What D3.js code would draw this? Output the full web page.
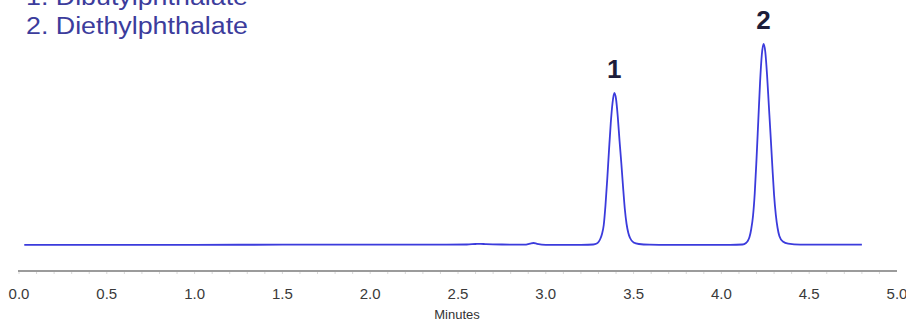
<!DOCTYPE html>
<html lang="en">
<head>
<meta charset="utf-8">
<title>Chromatogram</title>
<style>
  body { margin: 0; background: #fff; }
  text { font-family: "Liberation Sans", Arial, sans-serif; }
</style>
</head>
<body>
<svg width="906" height="323"></svg>
<script src="https://d3js.org/d3.v7.min.js"></script>
<script>
// trace: minutes / detector signal
var traceTime = [
  0.03, 0.5, 1.0, 1.5, 2.0, 2.4, 2.55, 2.60, 2.63, 2.66, 2.75, 2.88, 2.91, 2.93, 2.95, 3.0, 3.1, 3.2,
  3.27, 3.29, 3.30, 3.31, 3.32, 3.33, 3.34, 3.35, 3.36, 3.37, 3.38, 3.39, 3.40, 3.41, 3.42, 3.43,
  3.44, 3.45, 3.46, 3.47, 3.48, 3.50, 3.53, 3.59, 3.7, 3.9, 4.05,
  4.12, 4.14, 4.15, 4.16, 4.17, 4.18, 4.19, 4.20, 4.21, 4.22, 4.23, 4.24, 4.25, 4.26, 4.27, 4.28,
  4.29, 4.30, 4.31, 4.32, 4.33, 4.35, 4.38, 4.45, 4.6, 4.80
];
var traceSignal = [
  0.2, 0.2, 0.2, 0.3, 0.3, 0.4, 0.5, 1.0, 1.2, 0.8, 0.5, 0.4, 1.4, 2.0, 1.2, 0.2, 0.1, 0.2,
  0.5, 1.5, 3, 6, 11, 20, 40, 66, 95, 122, 142, 152, 146, 128, 104, 82,
  58, 36, 21, 12, 7, 2.5, 1, 0.3, 0.1, 0.2, 0.2,
  0.5, 2, 4, 8, 16, 29, 52, 86, 124, 162, 190, 201, 193, 170, 140, 110,
  79, 50, 30, 17, 9, 3.5, 1.3, 0.4, 0.3, 0.3
];
var xTicks = [0.0, 0.5, 1.0, 1.5, 2.0, 2.5, 3.0, 3.5, 4.0, 4.5, 5.0];
var legendLines = ["1. Dibutylphthalate", "2. Diethylphthalate"];
var peakNames = ["1", "2"];
var peakTimes = [3.39, 4.24];
var peakHeights = [152, 201];

var svg = d3.select("svg");

var x = d3.scaleLinear().domain([0, 5]).range([19, 897]);
var y = d3.scaleLinear().domain([0, 210]).range([245, 35]);

// x axis, bare line with faint minor ticks
var axis = svg.append("g").attr("transform", "translate(0,271)");
axis.append("line")
    .attr("x1", 18).attr("x2", 897)
    .attr("stroke", "#7a7a7a").attr("stroke-width", 1.3);
axis.selectAll("line.minor")
    .data(d3.range(0, 50).map(function(i) { return i / 10; }))
  .enter().append("line")
    .attr("class", "minor")
    .attr("x1", function(d) { return x(d); })
    .attr("x2", function(d) { return x(d); })
    .attr("y1", 1).attr("y2", 3)
    .attr("stroke", "#d8d8d8");
axis.selectAll("text.tick")
    .data(xTicks)
  .enter().append("text")
    .attr("class", "tick")
    .attr("x", function(d) { return x(d); })
    .attr("y", 28)
    .attr("text-anchor", "middle")
    .attr("font-size", 15)
    .attr("fill", "#3a3a3a")
    .text(function(d) { return d.toFixed(1); });

svg.append("text")
    .attr("x", 457).attr("y", 319)
    .attr("text-anchor", "middle")
    .attr("font-size", 13)
    .attr("fill", "#333")
    .text("Minutes");

// chromatogram trace
var pts = traceTime.map(function(t, i) { return [t, traceSignal[i]]; });
var line = d3.line()
    .x(function(d) { return x(d[0]); })
    .y(function(d) { return y(d[1]); })
    .curve(d3.curveMonotoneX);

svg.append("path")
    .datum(pts)
    .attr("d", line)
    .attr("fill", "none")
    .attr("stroke", "#3b3bdc")
    .attr("stroke-width", 1.8)
    .attr("stroke-linejoin", "round");

// peak numbers
svg.selectAll("text.peak")
    .data(peakNames)
  .enter().append("text")
    .attr("class", "peak")
    .attr("x", function(d, i) { return x(peakTimes[i]); })
    .attr("y", function(d, i) { return y(peakHeights[i]) - 15; })
    .attr("text-anchor", "middle")
    .attr("font-size", 26)
    .attr("font-weight", "bold")
    .attr("fill", "#1d1d3a")
    .text(function(d) { return d; });

// compound list, top left (first line runs off the top)
svg.selectAll("text.legend")
    .data(legendLines)
  .enter().append("text")
    .attr("class", "legend")
    .attr("x", 26)
    .attr("y", function(d, i) { return 5 + i * 29; })
    .attr("font-size", 23)
    .attr("fill", "#3c3c9c")
    .attr("textLength", 222)
    .attr("lengthAdjust", "spacingAndGlyphs")
    .text(function(d) { return d; });
</script>
</body>
</html>
